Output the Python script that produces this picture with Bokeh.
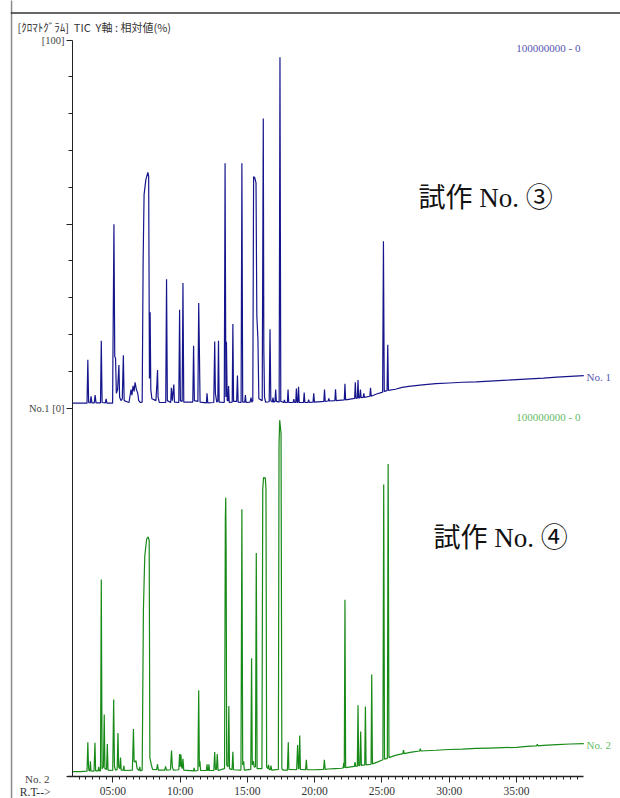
from bokeh.plotting import figure
from bokeh.models import Range1d, LinearAxis, FixedTicker, Label, BoxAnnotation
from bokeh.embed import file_html
from bokeh.resources import INLINE

# ---- data: retention time (min) and relative intensity (%) ----
rt_no1 = [2.0, 2.6, 3.08, 3.14, 3.2, 3.32, 3.38, 3.44, 3.62, 3.68, 3.75, 4.08, 4.14, 4.2, 4.44, 4.5, 4.56,
          4.98, 5.08, 5.14, 5.2, 5.26, 5.35, 5.45, 5.5, 5.6, 5.7, 5.78, 5.84, 6.2, 6.35, 6.42, 6.5, 6.58, 6.65, 6.75, 6.85, 6.92, 7.05,
          7.18, 7.25, 7.32, 7.45, 7.6, 7.66, 7.72, 7.77, 7.82, 7.9, 8.2, 8.28, 8.32, 8.36, 8.45,
          8.93, 8.99, 9.05, 9.3, 9.35, 9.42, 9.53, 9.58, 9.9, 9.96, 10.02, 10.15, 10.21, 10.27, 10.94, 11.0, 11.06, 11.32, 11.38, 11.43, 11.48, 11.95, 12.0, 12.05,
          12.5, 12.57, 12.62, 12.72, 12.8, 12.85, 12.9, 13.28, 13.34, 13.4, 13.44, 13.5, 13.56, 13.6, 13.65, 13.87, 13.92, 13.97, 14.2, 14.26, 14.31, 14.53, 14.59, 14.65, 14.8, 14.85, 14.9, 15.2, 15.27, 15.33,
          15.4, 15.46, 15.55, 15.64, 15.7, 15.78, 15.85, 16.1, 16.18, 16.22, 16.27, 16.35, 16.62, 16.68, 16.74, 16.85, 16.9, 16.95, 17.05, 17.1, 17.15, 17.36, 17.42, 17.48,
          17.7, 17.75, 17.8, 17.97, 18.02, 18.07, 18.4, 18.45, 18.5, 18.59, 18.64, 18.69, 18.75, 18.8, 18.85, 19.17, 19.22, 19.27, 19.5, 19.55, 19.6, 19.88, 19.93, 19.98, 20.68, 20.73, 20.78, 21.0, 21.05, 21.1, 21.5, 21.55, 21.6,
          22.2, 22.25, 22.3, 22.97, 23.02, 23.07, 23.17, 23.22, 23.27, 23.35, 23.4, 23.45, 23.6, 23.65, 23.7, 24.1, 24.15, 24.2, 24.6, 25.05, 25.11, 25.17, 25.38, 25.43, 25.48,
          26.0, 26.5, 27.0, 27.5, 28.0, 29.0, 30.0, 31.0, 32.0, 33.0, 34.0, 35.0, 36.0, 37.0, 38.0, 39.0, 40.0]
int_no1 = [1.3, 1.3, 1.3, 13.1, 1.5, 1.4, 3.2, 1.4, 1.4, 3.5, 1.4, 1.4, 18.3, 1.5, 1.4, 2.5, 1.3,
           1.3, 49.9, 14.0, 13.6, 4.0, 5.0, 11.7, 3.0, 2.0, 2.5, 14.3, 2.0, 1.5, 5.0, 3.5, 6.0, 4.5, 7.0, 5.0, 4.0, 2.0, 1.5,
           1.6, 40.0, 58.0, 62.0, 64.0, 63.0, 8.0, 26.0, 5.0, 2.5, 2.0, 7.0, 10.3, 3.0, 1.5,
           1.5, 35.0, 2.0, 1.5, 5.5, 2.0, 6.4, 1.6, 1.5, 26.7, 2.0, 1.8, 34.0, 1.6, 1.6, 16.9, 2.0, 1.8, 28.5, 16.0, 1.6, 1.4, 4.0, 1.4,
           1.5, 18.1, 4.0, 1.6, 1.8, 18.3, 1.6, 1.5, 66.5, 3.0, 18.0, 2.0, 2.0, 6.0, 1.5, 1.6, 22.8, 1.8, 1.8, 8.8, 1.6, 1.5, 66.5, 1.6, 1.6, 3.5, 1.5, 1.6, 2.8, 1.6,
           2.0, 62.9, 62.5, 61.2, 25.0, 18.9, 2.5, 2.0, 78.7, 15.8, 3.0, 1.6, 1.7, 21.4, 2.0, 1.6, 2.8, 1.6, 1.8, 5.0, 1.8, 1.6, 95.3, 1.8,
           1.5, 2.2, 1.5, 1.5, 5.0, 1.5, 1.5, 2.4, 1.5, 1.5, 5.3, 1.5, 1.5, 5.8, 1.5, 1.5, 4.2, 1.5, 1.5, 2.3, 1.5, 1.6, 4.0, 1.6, 1.8, 5.0, 1.8, 1.9, 2.6, 1.9, 2.0, 5.1, 2.0,
           2.2, 6.6, 2.2, 2.6, 7.0, 2.6, 2.7, 7.6, 2.7, 2.8, 5.0, 2.8, 2.9, 4.0, 2.9, 3.2, 5.5, 3.2, 3.8, 4.3, 45.3, 4.5, 4.7, 17.2, 4.8,
           5.1, 5.6, 5.9, 6.1, 6.3, 6.6, 6.8, 7.0, 7.1, 7.3, 7.5, 7.7, 7.9, 8.1, 8.4, 8.6, 8.8]

rt_no2 = [2.0, 2.6, 3.08, 3.14, 3.18, 3.22, 3.3, 3.33, 3.37, 3.6, 3.67, 3.72, 3.9, 3.95, 4.0, 4.08, 4.14, 4.2, 4.3, 4.36, 4.41, 4.53, 4.59, 4.64,
          4.99, 5.06, 5.12, 5.2, 5.32, 5.38, 5.43, 5.52, 5.57, 5.62, 5.78, 5.82, 5.86, 6.45, 6.53, 6.58, 6.65, 6.72, 6.8, 6.95, 7.0, 7.05,
          7.18, 7.27, 7.37, 7.51, 7.62, 7.7, 7.75, 7.85, 7.95, 8.25, 8.32, 8.38, 8.85, 8.92, 8.98, 9.28, 9.36, 9.42, 9.5,
          9.9, 9.96, 10.01, 10.06, 10.11, 10.16, 10.21, 10.27, 11.0, 11.04, 11.08, 11.32, 11.38, 11.43, 11.47, 11.52, 11.95, 12.0, 12.04, 12.1, 12.14, 12.18, 12.5, 12.57, 12.62, 12.7, 12.76, 12.82,
          13.3, 13.36, 13.39, 13.42, 13.46, 13.56, 13.62, 13.67, 13.86, 13.92, 13.97, 14.52, 14.59, 14.65, 14.72, 14.77, 15.25, 15.31, 15.36, 15.45, 15.5, 15.6, 15.66, 15.72,
          16.08, 16.14, 16.2, 16.33, 16.38, 16.43, 16.52, 16.57, 16.62, 16.7, 16.75, 16.8, 17.3, 17.35, 17.4, 17.5, 17.56, 17.65,
          17.97, 18.04, 18.08, 18.66, 18.73, 18.79, 18.83, 18.89, 18.94, 19.32, 19.38, 19.43, 20.0, 20.66, 20.72, 20.78, 21.0, 21.5, 22.0, 22.12, 22.16, 22.2, 22.25, 22.3,
          22.95, 23.0, 23.05, 23.17, 23.22, 23.27, 23.36, 23.42, 23.47, 23.72, 23.77, 23.82, 24.19, 24.24, 24.29, 24.6, 25.07, 25.13, 25.19, 25.4, 25.46, 25.52,
          26.0, 26.55, 26.6, 26.65, 27.2, 27.8, 27.85, 27.9, 29.0, 30.0, 31.0, 32.0, 33.0, 34.0, 35.0, 36.0, 36.5, 36.55, 36.6, 37.0, 38.0, 39.0, 40.0]
int_no2 = [1.2, 1.2, 1.3, 9.2, 3.5, 1.5, 1.4, 4.0, 1.4, 1.3, 9.0, 1.4, 1.4, 2.5, 1.4, 1.4, 53.4, 2.0, 2.5, 16.7, 2.0, 1.8, 8.7, 1.6,
           1.5, 20.8, 2.5, 1.6, 1.8, 11.7, 2.5, 2.0, 5.0, 1.6, 1.6, 2.8, 1.5, 1.6, 12.8, 4.0, 3.8, 4.2, 2.0, 1.5, 2.5, 1.4,
           1.6, 45.0, 59.6, 64.4, 65.0, 64.0, 5.0, 3.2, 1.8, 1.7, 3.2, 1.6, 1.6, 2.6, 1.6, 1.7, 6.9, 2.5, 1.6,
           1.7, 6.0, 2.5, 5.8, 2.5, 2.0, 4.7, 1.6, 1.4, 2.2, 1.4, 1.5, 23.3, 2.5, 4.0, 1.5, 1.5, 3.2, 1.5, 1.5, 3.2, 1.5, 1.5, 6.5, 1.8, 1.8, 6.0, 1.5,
           2.0, 70.0, 75.6, 60.5, 3.0, 2.5, 19.0, 2.0, 1.7, 6.6, 1.7, 1.6, 72.5, 3.0, 4.0, 1.6, 1.8, 32.0, 3.0, 4.0, 2.5, 2.5, 60.6, 2.0,
           2.0, 78.0, 81.1, 81.0, 78.0, 2.5, 2.0, 3.0, 1.8, 1.7, 2.8, 1.6, 1.8, 90.0, 96.7, 93.0, 2.0, 1.6,
           1.6, 9.2, 1.8, 1.7, 8.4, 2.0, 2.0, 11.0, 1.8, 1.7, 4.4, 1.7, 1.7, 1.8, 4.4, 1.8, 1.9, 2.0, 2.1, 2.2, 3.6, 2.2, 47.9, 2.3,
           2.6, 3.8, 2.6, 2.7, 19.2, 2.8, 2.9, 12.1, 2.9, 3.0, 18.9, 3.0, 3.2, 27.6, 3.3, 3.7, 4.4, 79.2, 4.6, 4.8, 84.8, 5.0,
           5.6, 6.1, 7.0, 6.1, 6.5, 6.8, 7.4, 6.8, 7.0, 7.2, 7.3, 7.5, 7.6, 7.7, 7.8, 8.1, 8.2, 8.6, 8.2, 8.3, 8.5, 8.7, 8.8]

x_major = [5, 10, 15, 20, 25, 30, 35]
x_labels = ["05:00", "10:00", "15:00", "20:00", "25:00", "30:00", "35:00"]
x_minor = [2.5 + 0.5 * i for i in range(75)]
y_major = [-100, 0, 50, 100]
y_minor = [10, 20, 30, 40, 60, 70, 80, 90]
y_labels = {-100: "", 0: "No.1 [0]", 50: "", 100: "[100]"}

header = "[ｸﾛﾏﾄｸﾞﾗﾑ]\u00a0 TIC\u00a0 Y軸 : 相対値(%)"
scale_text = "100000000 - 0"
name_no1 = "試作 No. ③"
name_no2 = "試作 No. ④"

BLUE = "#16168c"
BLUE_L = "#5656b0"
GREEN = "#178a17"
GREEN_L = "#66bb66"
SERIF = "Liberation Serif"
MIX = "Liberation Serif, Noto Sans CJK JP"

# The frame fills the whole canvas; axes are pinned at fixed data locations.
p = figure(width=620, height=798, output_backend="svg", toolbar_location=None,
           x_range=Range1d(-3.351, 42.729), y_range=Range1d(-6.114, 210.734),
           y_axis_location=None,
           min_border_left=0, min_border_right=0, min_border_top=0, min_border_bottom=0)
p.extra_y_ranges = {"no1": Range1d(-106.114, 110.734)}
p.outline_line_color = None
p.grid.visible = False
p.background_fill_color = "white"
p.border_fill_color = "white"

# x axis (retention time) at intensity 0 of the lower trace
xa = p.xaxis[0]
xa.fixed_location = 0
xa.bounds = (1.6, 40)
xa.ticker = FixedTicker(ticks=x_major, minor_ticks=x_minor)
xa.major_label_overrides = dict(zip(x_major, x_labels))
xa.major_tick_in = 0
xa.major_tick_out = 6
xa.minor_tick_in = 0
xa.minor_tick_out = 3
xa.major_label_standoff = 3
xa.axis_line_width = 1.5
xa.axis_line_color = "#222222"
xa.major_tick_line_color = "#222222"
xa.minor_tick_line_color = "#222222"
xa.major_label_text_font = SERIF
xa.major_label_text_font_size = "11.5px"
xa.major_label_text_color = "#333333"

# y axis: shared left axis line, ticks for the upper trace
ya = LinearAxis(y_range_name="no1", ticker=FixedTicker(ticks=y_major, minor_ticks=y_minor),
                fixed_location=2, bounds=(-100, 100))
ya.major_label_overrides = y_labels
ya.major_tick_in = 0
ya.major_tick_out = 6
ya.minor_tick_in = 0
ya.minor_tick_out = 4
ya.major_label_standoff = 2
ya.axis_line_color = "#222222"
ya.major_tick_line_color = "#222222"
ya.minor_tick_line_color = "#222222"
ya.major_label_text_font = SERIF
ya.major_label_text_font_size = "10.5px"
ya.major_label_text_color = "#444444"
p.add_layout(ya, "left")

# traces
p.line(rt_no1, int_no1, y_range_name="no1", line_color=BLUE, line_width=1.2)
p.line(rt_no2, int_no2, line_color=GREEN, line_width=1.2)

# outer window lines
p.add_layout(BoxAnnotation(left=-2.586, right=-2.474, bottom=-7, top=212,
                           fill_color="#8c8c8c", fill_alpha=1, line_color=None))
p.add_layout(BoxAnnotation(left=-2.586, right=43, bottom=207.12, top=207.55,
                           fill_color="#333333", fill_alpha=1, line_color=None))

# texts
p.add_layout(Label(x=-2.088, y=203.5, text=header, text_font="Noto Sans CJK JP",
                   text_font_size="11px", text_color="#333333", text_baseline="middle"))
p.add_layout(Label(x=39.755, y=97.96, y_range_name="no1", text=scale_text, text_font=SERIF,
                   text_font_size="11px", text_color=BLUE_L, text_align="right", text_baseline="middle"))
p.add_layout(Label(x=39.755, y=97.69, text=scale_text, text_font=SERIF,
                   text_font_size="11px", text_color=GREEN_L, text_align="right", text_baseline="middle"))
p.add_layout(Label(x=40.2, y=8.3, y_range_name="no1", text="No. 1", text_font=SERIF,
                   text_font_size="11px", text_color=BLUE_L, text_baseline="middle"))
p.add_layout(Label(x=40.2, y=8.29, text="No. 2", text_font=SERIF,
                   text_font_size="11px", text_color=GREEN_L, text_baseline="middle"))
p.add_layout(Label(x=0.29, y=-0.68, text="No. 2", text_font=SERIF,
                   text_font_size="11px", text_color="#444444", text_align="right", text_baseline="middle"))
p.add_layout(Label(x=0.365, y=-4.4, text="R.T-->", text_font=SERIF,
                   text_font_size="11.5px", text_color="#333333", text_align="right", text_baseline="middle"))
p.add_layout(Label(x=27.715, y=57.2, y_range_name="no1", text=name_no1, text_font=MIX,
                   text_font_size="27px", text_color="#111111", text_baseline="middle"))
p.add_layout(Label(x=28.83, y=64.54, text=name_no2, text_font=MIX,
                   text_font_size="27px", text_color="#111111", text_baseline="middle"))

open("out.html", "w").write(file_html(p, INLINE))
